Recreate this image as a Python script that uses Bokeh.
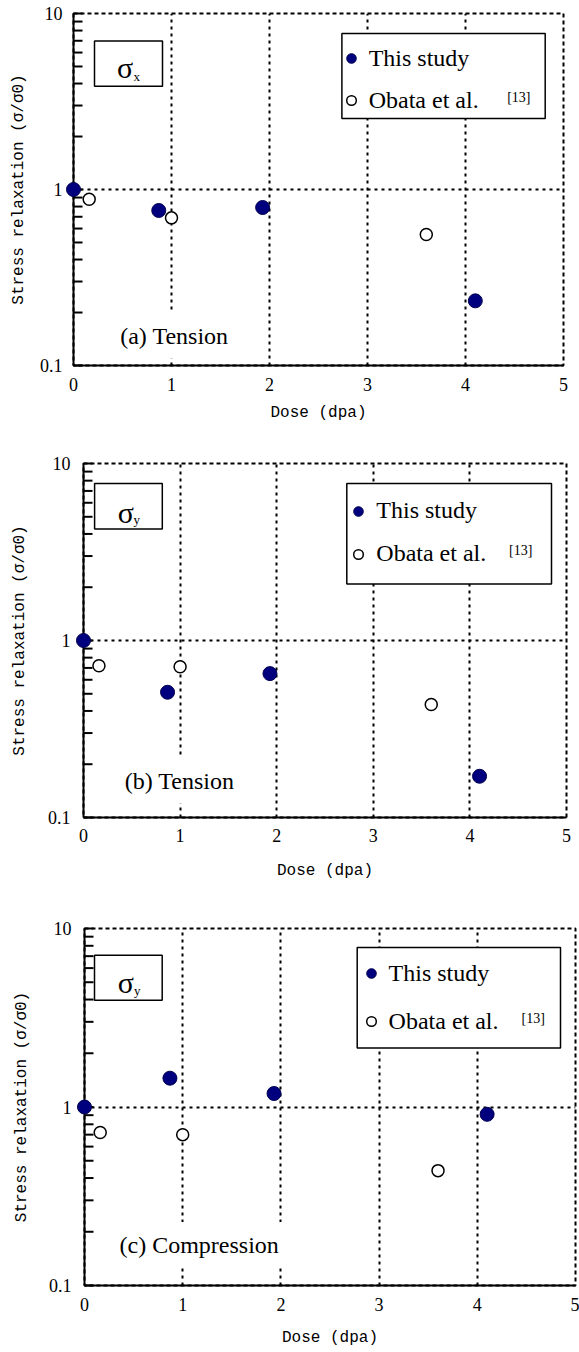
import math
from bokeh.plotting import figure
from bokeh.models import (Range1d, FixedTicker, CustomJSTickFormatter, Label,
                          BoxAnnotation, Legend, LegendItem)
from bokeh.embed import file_html
from bokeh.resources import INLINE

# ---------------- data ----------------
dose_this = [0.0, 0.87, 1.93, 4.1]
dose_obata = [0.16, 1.0, 3.6]

sx_tension_this = [1.0, 0.76, 0.79, 0.233]
sx_tension_obata = [0.88, 0.69, 0.555]

sy_tension_this = [1.0, 0.51, 0.65, 0.171]
sy_tension_obata = [0.72, 0.71, 0.435]

sy_compression_this = [1.0, 1.45, 1.19, 0.91]
sy_compression_obata = [0.72, 0.70, 0.44]

x_ticks = [0, 1, 2, 3, 4, 5]
y_ticks = [0.1, 1, 10]
y_minor_ticks = [0.2, 0.3, 0.4, 0.5, 0.6, 0.7, 0.8, 0.9, 2, 3, 4, 5, 6, 7, 8, 9]

panel_labels = ["(a) Tension", "(b) Tension", "(c) Compression"]
component_main = ["σ", "σ", "σ"]
component_sub = ["x", "y", "y"]
legend_labels = ["This study", "Obata et al."]
ref_label = "[13]"
x_title = "Dose (dpa)"
y_title = "Stress relaxation (σ/σ0)"

series_this = [sx_tension_this, sy_tension_this, sy_compression_this]
series_obata = [sx_tension_obata, sy_tension_obata, sy_compression_obata]

XR = (0, 5)
YR = (0.1, 10)

NAVY = "#00007f"
SERIF = "Liberation Serif"
TITLE_FONT = "Liberation Mono"
TICK_LEN = 9  # px, inward tick length

# ---------------- layout (pixels) ----------------
layouts = [
    dict(H=430, L=73, R=16, T=13, B=65, yls=11, yts=9, xls=12, xts=10,
         sbox=(21, 89, 27.4, 72.7), sig=(43.4, 53.7), sub=(60, 62.7),
         lbox=(268.4, 471.7, 20, 105), row1=46.7, gap=15, legx=277.7,
         ref=(433.7, 76.7), lab=(36.7, 322)),
    dict(H=465, L=83, R=13, T=33, B=78, yls=13, yts=16, xls=11, xts=17,
         sbox=(11.1, 78.8, 20, 65.6), sig=(34.3, 49.3), sub=(49.9, 56),
         lbox=(263.3, 468, 20, 120.6), row1=49, gap=16, legx=275.3,
         ref=(425.5, 79.6), lab=(31.3, 317)),
    dict(H=457, L=84, R=4, T=33, B=67, yls=13, yts=15, xls=12, xts=15,
         sbox=(10, 77.7, 26.7, 71.7), sig=(33.3, 54.2), sub=(49.6, 62.1),
         lbox=(272.7, 476, 19, 119.4), row1=46.7, gap=21, legx=286.6,
         ref=(437, 82.4), lab=(25, 316.5)),
]

GW, GH = 24, 26


def make_panel(i):
    g = layouts[i]
    W = 579
    fw = W - g["L"] - g["R"]
    fh = g["H"] - g["T"] - g["B"]

    def dx(ox):
        return XR[0] + ox / fw * (XR[1] - XR[0])

    def dy(oy):
        l1, l0 = math.log10(YR[1]), math.log10(YR[0])
        return 10 ** (l1 - oy / fh * (l1 - l0))

    p = figure(width=W, height=g["H"], x_range=Range1d(*XR), y_range=Range1d(*YR),
               y_axis_type="log", output_backend="svg", toolbar_location=None,
               min_border_left=g["L"], min_border_right=g["R"],
               min_border_top=g["T"], min_border_bottom=g["B"])
    p.background_fill_color = "white"
    p.border_fill_color = "white"
    p.outline_line_color = "black"
    p.outline_line_width = 2
    p.outline_line_dash = "4 3"

    # x axis
    xa = p.xaxis[0]
    xa.ticker = FixedTicker(ticks=x_ticks)
    xa.major_tick_in = 0
    xa.major_tick_out = 0
    xa.minor_tick_in = 0
    xa.minor_tick_out = 0
    xa.axis_line_width = 2
    xa.axis_line_color = "black"
    xa.major_label_text_font = SERIF
    xa.major_label_text_font_size = "18px"
    xa.major_label_text_color = "black"
    xa.major_label_standoff = g["xls"]
    xa.axis_label = x_title
    xa.axis_label_text_font = TITLE_FONT
    xa.axis_label_text_font_size = "16px"
    xa.axis_label_text_font_style = "normal"
    xa.axis_label_text_color = "black"
    xa.axis_label_standoff = g["xts"]

    # y axis (labels + title)
    ya = p.yaxis[0]
    ya.ticker = FixedTicker(ticks=y_ticks, minor_ticks=y_minor_ticks)
    ya.formatter = CustomJSTickFormatter(code="return tick >= 1 ? tick.toFixed(0) : tick.toFixed(1);")
    ya.major_tick_in = 0
    ya.major_tick_out = 0
    ya.minor_tick_in = 0
    ya.minor_tick_out = 0
    ya.axis_line_width = 2
    ya.axis_line_color = "black"
    ya.major_label_text_font = SERIF
    ya.major_label_text_font_size = "18px"
    ya.major_label_text_color = "black"
    ya.major_label_standoff = g["yls"]
    ya.axis_label = y_title
    ya.axis_label_text_font = TITLE_FONT
    ya.axis_label_text_font_size = "16px"
    ya.axis_label_text_font_style = "normal"
    ya.axis_label_text_color = "black"
    ya.axis_label_standoff = g["yts"]

    # grids
    for gr in (p.xgrid[0], p.ygrid[0]):
        gr.grid_line_color = "black"
        gr.grid_line_width = 2
        gr.grid_line_dash = "3 4"
        gr.grid_line_alpha = 1
    p.ygrid[0].minor_grid_line_color = None

    # inward tick marks on the y axis, drawn from the tick lists
    tick_vals = y_minor_ticks + y_ticks
    n = len(tick_vals)
    p.segment(x0=[XR[0]] * n, y0=tick_vals, x1=[dx(TICK_LEN)] * n, y1=tick_vals,
              line_color="black", line_width=2, line_dash="solid", level="overlay")

    # data
    r_ob = p.scatter(dose_obata, series_obata[i], size=12, marker="circle",
                     fill_color="white", line_color="black", line_width=1.5,
                     level="overlay")
    r_th = p.scatter(dose_this, series_this[i], size=14, marker="circle",
                     fill_color=NAVY, line_color="#000050", line_width=1,
                     level="overlay")

    # sigma component box
    l, r, t, b = g["sbox"]
    p.add_layout(BoxAnnotation(left=dx(l), right=dx(r), top=dy(t), bottom=dy(b),
                               fill_color="white", fill_alpha=1,
                               line_color="black", line_width=1.5, line_alpha=1))
    p.add_layout(Label(x=dx(g["sig"][0]), y=dy(g["sig"][1]), text=component_main[i],
                       text_font=SERIF, text_font_size="30px", text_color="black",
                       text_align="left", text_baseline="middle"))
    p.add_layout(Label(x=dx(g["sub"][0]), y=dy(g["sub"][1]), text=component_sub[i],
                       text_font=SERIF, text_font_size="13px", text_color="black",
                       text_align="left", text_baseline="middle"))

    # legend box
    l, r, t, b = g["lbox"]
    p.add_layout(BoxAnnotation(left=dx(l), right=dx(r), top=dy(t), bottom=dy(b),
                               fill_color="white", fill_alpha=1,
                               line_color="black", line_width=1.5, line_alpha=1))
    H_leg = 2 * GH + g["gap"]
    top = g["row1"] - GH / 2
    vy = fh - (top + H_leg)
    vx = g["legx"] - GW / 2
    legend = Legend(items=[LegendItem(label=legend_labels[0], renderers=[r_th]),
                           LegendItem(label=legend_labels[1], renderers=[r_ob])],
                    location=(vx, vy), orientation="vertical",
                    padding=0, margin=0, spacing=g["gap"],
                    glyph_width=GW, glyph_height=GH, label_height=GH,
                    label_standoff=6,
                    label_text_font=SERIF, label_text_font_size="24px",
                    label_text_color="black",
                    border_line_color=None, background_fill_alpha=0)
    p.add_layout(legend)
    p.add_layout(Label(x=dx(g["ref"][0]), y=dy(g["ref"][1]), text=ref_label,
                       text_font=SERIF, text_font_size="14px", text_color="black",
                       text_align="left", text_baseline="top"))

    # panel label with white background
    p.add_layout(Label(x=dx(g["lab"][0]), y=dy(g["lab"][1]), text=panel_labels[i],
                       text_font=SERIF, text_font_size="24px", text_color="black",
                       text_align="left", text_baseline="middle",
                       background_fill_color="white", background_fill_alpha=1,
                       padding=10))
    return p


plots = [make_panel(i) for i in range(3)]

# separate roots so that the panels keep their own frame positions
open("out.html", "w").write(file_html(plots, INLINE))
